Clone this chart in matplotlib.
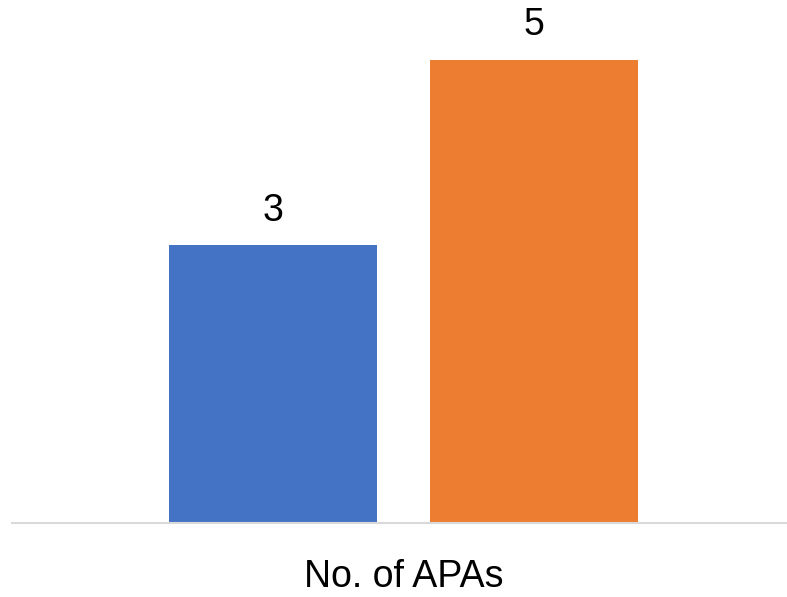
import matplotlib.pyplot as plt

# Data
series = ['Series 1', 'Series 2']
values = [3, 5]
colors = ['#4472C4', '#ED7D31']
category = 'No. of APAs'

plt.rcParams['font.family'] = ['Liberation Sans', 'DejaVu Sans']

W, H = 787, 597
fig = plt.figure(figsize=(W / 100, H / 100), dpi=100)

# axes box in pixel coords: left 12, right 787, baseline 523, value 5 at 60
left, right, base, top5 = 12, 787, 523, 60
ax = fig.add_axes([left / W, (H - base) / H, (right - left) / W, (base - top5) / H])

pos = [0, 1]
width = 0.797
bars = ax.bar(pos, values, width=width, color=colors)
ax.set_xlim(-1.0, 1.97)
ax.set_ylim(0, 5)

for b, v in zip(bars, values):
    ax.annotate(str(v), (b.get_x() + b.get_width() / 2, v),
                xytext=(0, 12), textcoords='offset points',
                ha='center', va='bottom', fontsize=27, color='black',
                annotation_clip=False)

for s in ['top', 'right', 'left']:
    ax.spines[s].set_visible(False)
ax.spines['bottom'].set_color('#d9d9d9')
ax.spines['bottom'].set_linewidth(1.5)
ax.set_yticks([])
ax.set_xticks([])

fig.text(404 / W, 1 - 577 / H, category, ha='center', va='center', fontsize=27)

fig.savefig('out.png', dpi=100)
